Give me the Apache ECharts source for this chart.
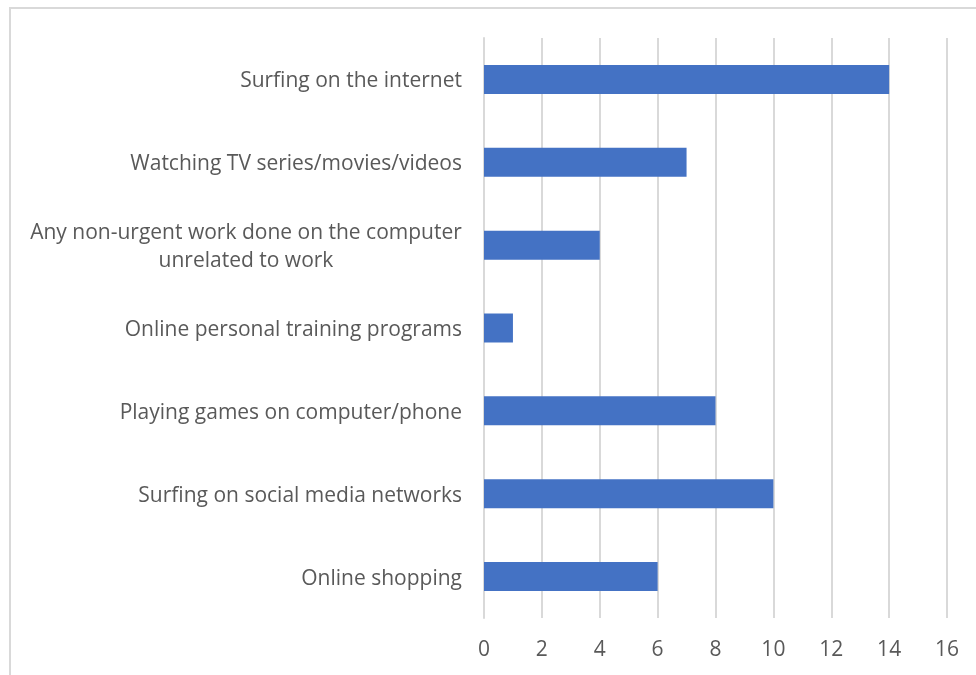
<!DOCTYPE html>
<html>
<head>
<meta charset="utf-8">
<script src="https://cdn.jsdelivr.net/npm/echarts@6/dist/echarts.min.js"></script>
<style>
  html, body { margin: 0; padding: 0; background: #ffffff; }
  #chart { width: 976px; height: 675px; }
</style>
</head>
<body>
<div id="chart"></div>
<script>
// Activities and how many respondents named each one
const categories = [
  'Surfing on the internet',
  'Watching TV series/movies/videos',
  'Any non-urgent work done on the computer\nunrelated to work',
  'Online personal training programs',
  'Playing games on computer/phone',
  'Surfing on social media networks',
  'Online shopping'
];
const values = [14, 7, 4, 1, 8, 10, 6];
const tickLabels = ['0', '2', '4', '6', '8', '10', '12', '14', '16'];

const FONT = '"Open Sans", "Noto Sans", sans-serif';
const FONT_SIZE = 21;
const TEXT = '#595959';
const GRID = '#d9d9d9';

// Width of the longest line of a wrapped label, so its lines can be centred on each other
function widestLine(lines) {
  const ctx = document.createElement('canvas').getContext('2d');
  ctx.font = FONT_SIZE + 'px ' + FONT;
  return Math.ceil(Math.max.apply(null, lines.map(l => ctx.measureText(l).width)));
}

const chart = echarts.init(document.getElementById('chart'), null, { renderer: 'canvas' });

chart.setOption({
  animation: false,
  backgroundColor: '#ffffff',
  graphic: [{
    type: 'rect',
    shape: { x: 10, y: 8, width: 1000, height: 720 },
    style: { fill: 'none', stroke: GRID, lineWidth: 2 },
    silent: true,
    z: -1
  }],
  grid: { left: 484, top: 38, width: 463, height: 580, containLabel: false },
  xAxis: {
    type: 'value',
    min: 0,
    max: 16,
    interval: 2,
    axisLine: { show: false },
    axisTick: { show: false },
    splitLine: { show: true, lineStyle: { color: GRID, width: 2 } },
    axisLabel: {
      color: TEXT,
      fontFamily: FONT,
      fontSize: FONT_SIZE,
      margin: 22,
      formatter: (v) => tickLabels[Math.round(v / 2)]
    }
  },
  yAxis: {
    type: 'category',
    inverse: true,
    data: categories,
    axisLine: { show: true, lineStyle: { color: GRID, width: 2 } },
    axisTick: { show: false },
    axisLabel: {
      color: TEXT,
      fontFamily: FONT,
      fontSize: FONT_SIZE,
      margin: 22,
      align: 'right',
      lineHeight: 28,
      padding: [4, 0, 0, 0],
      formatter: (v) => {
        if (v.indexOf('\n') < 0) return v;
        const lines = v.split('\n');
        const w = widestLine(lines);
        return lines.map(l => '{c' + w + '|' + l + '}').join('\n');
      },
      rich: (function () {
        const r = {};
        categories.filter(c => c.indexOf('\n') >= 0).forEach(c => {
          const w = widestLine(c.split('\n'));
          r['c' + w] = { width: w, align: 'center', color: TEXT, fontFamily: FONT, fontSize: FONT_SIZE, lineHeight: 28 };
        });
        return r;
      })()
    }
  },
  series: [{
    type: 'bar',
    data: values,
    barWidth: 29,
    itemStyle: { color: '#4472C4' }
  }]
});
</script>
</body>
</html>
